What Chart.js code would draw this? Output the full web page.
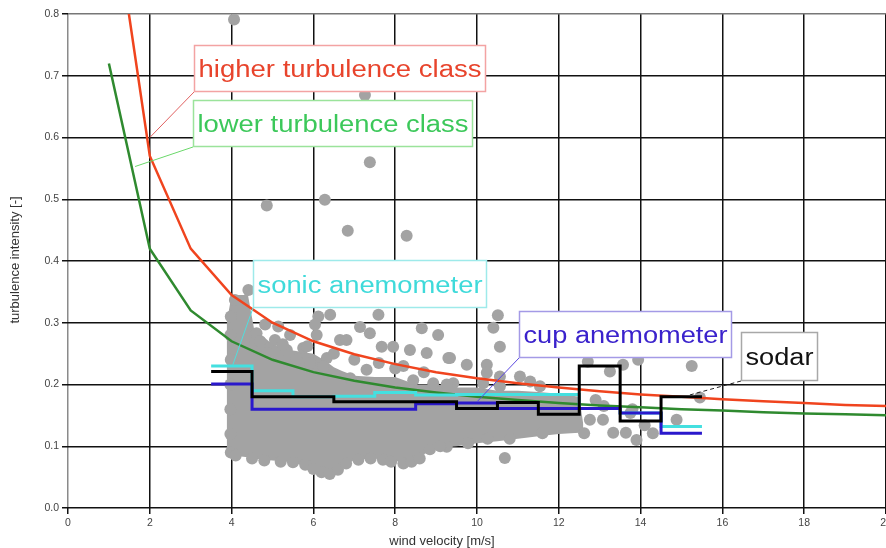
<!DOCTYPE html>
<html>
<head>
<meta charset="utf-8">
<script src="https://cdn.jsdelivr.net/npm/chart.js@4.4.1/dist/chart.umd.min.js"></script>
<style>
html,body{margin:0;padding:0;background:#fff;overflow:hidden}
#wrap{width:886px;height:548px;overflow:hidden}
</style>
</head>
<body>
<div id="wrap"><canvas id="c" width="892" height="548"></canvas></div>
<script>
'use strict';

// turbulence classes, read at integer wind speeds
const classX=[1,2,3,4,5,6,7,8,9,10,11,12,13,14,15,16,17,18,19,20];
const higherClass=[1.02,0.57,0.42,0.345,0.30,0.27,0.249,0.233,0.22,0.21,0.202,0.195,0.189,0.184,0.18,0.176,0.173,0.17,0.167,0.165];
const lowerClass=[0.72,0.42,0.32,0.27,0.24,0.22,0.206,0.195,0.187,0.18,0.175,0.17,0.166,0.163,0.16,0.158,0.155,0.153,0.152,0.15];

// 1 m/s bins (edges), one mean value per bin
const binEdges=[3.5,4.5,5.5,6.5,7.5,8.5,9.5,10.5,11.5,12.5,13.5,14.5,15.5];
const sonic=[0.230,0.190,0.180,0.181,0.187,0.183,0.184,0.184,0.184,0.161,0.154,0.132];
const cup=[0.201,0.160,0.160,0.160,0.160,0.169,0.170,0.161,0.161,0.161,0.154,0.121];
const sodar=[0.221,0.180,0.180,0.172,0.172,0.172,0.161,0.171,0.152,0.230,0.141,0.180];

// dense core of the 10-min samples (upper / lower edge)
const cloudX=[3.88,4.0,4.4,4.55,5.0,5.5,6.0,6.3,6.5,6.7,7.0,7.5,8.0,8.5,9.0,9.5,10.0,10.5,11.0,11.5,12.0,12.5,12.6];
const cloudTop=[0.30,0.345,0.345,0.29,0.265,0.255,0.25,0.238,0.228,0.222,0.214,0.212,0.212,0.20,0.20,0.195,0.195,0.19,0.19,0.188,0.185,0.18,0.135];
const cloudBottom=[0.085,0.085,0.082,0.08,0.077,0.074,0.063,0.056,0.056,0.065,0.078,0.08,0.075,0.08,0.097,0.1,0.105,0.108,0.112,0.116,0.12,0.122,0.128];

// single samples outside / on the edge of the core
const samples=[
  [4.06,0.791],[4.86,0.490],[6.28,0.499],[6.84,0.449],[7.38,0.560],[8.28,0.441],[7.26,0.669],
  [4.41,0.353],[4.08,0.337],[6.12,0.310],[6.41,0.313],[7.59,0.313],[7.14,0.293],[7.38,0.283],
  [7.67,0.261],[8.65,0.291],[9.05,0.280],[8.36,0.256],[8.77,0.251],[9.30,0.243],[9.75,0.232],
  [10.24,0.232],[10.40,0.292],[10.51,0.312],[6.65,0.272],[6.81,0.272],[6.08,0.280],[6.04,0.297],
  [5.75,0.259],[6.33,0.243],[6.24,0.229],[7.30,0.224],[8.00,0.226],[7.95,0.261],[5.43,0.280],
  [5.14,0.294],[4.82,0.297],[5.06,0.272],[4.61,0.283],[4.53,0.261],[4.86,0.251],[5.35,0.256],
  [5.59,0.240],[5.92,0.235],[6.90,0.210],[8.44,0.207],[8.93,0.202],[9.42,0.202],[10.15,0.202],
  [10.56,0.261],[9.34,0.243],[10.24,0.219],[10.56,0.213],[11.05,0.213],[11.30,0.205],[12.71,0.237],
  [13.25,0.221],[13.94,0.240],[15.25,0.230],[14.88,0.143],[13.57,0.232],[11.54,0.197],[10.56,0.197],
  [9.26,0.200],[15.45,0.179],[10.68,0.081],[13.90,0.110],[13.33,0.122],[13.64,0.122],[14.30,0.121],
  [12.62,0.121],[10.80,0.112],[10.26,0.112],[12.76,0.143],[13.08,0.143],[14.10,0.134],[13.75,0.154],
  [11.60,0.121],[9.78,0.105],[9.26,0.099],[13.80,0.160],[13.10,0.165],[12.90,0.175],
  [3.98,0.31],[3.97,0.28],[3.98,0.24],[3.97,0.20],[3.97,0.16],[3.97,0.12],[3.98,0.09],
  [4.1,0.085],[4.5,0.08],[4.8,0.077],[5.2,0.075],[5.5,0.074],[5.8,0.07],[6.0,0.063],[6.2,0.058],
  [6.4,0.055],[6.6,0.062],[6.8,0.072],[7.1,0.078],[7.4,0.08],[7.7,0.078],[7.9,0.075],[8.2,0.072],
  [8.4,0.075],[8.6,0.08],[8.85,0.095],[9.1,0.1],
  [4.7,0.27],[5.25,0.265],[5.85,0.262],[6.5,0.25],[7.0,0.24],[7.6,0.235],[8.2,0.23],[8.7,0.22]
];

const GREY='#a3a3a3';
const pts=(xs,ys)=>xs.map((x,i)=>({x,y:ys[i]}));
const steps=vals=>binEdges.map((x,i)=>({x,y:vals[Math.min(i,vals.length-1)]}));

// text boxes: box corners and the point the leader line goes to (data units)
const notes=[
  {text:'higher turbulence class',color:'#e8442c',border:'#f3a3a3',line:'#e06060',x0:3.08,y0:0.749,x1:10.22,y1:0.673,ax:2.0,ay:0.60},
  {text:'lower turbulence class',color:'#3cc85a',border:'#9be39b',line:'#6ad86a',x0:3.06,y0:0.661,x1:9.90,y1:0.585,ax:1.64,ay:0.553},
  {text:'sonic anemometer',color:'#3fdada',border:'#9eeaea',line:'#50dede',x0:4.52,y0:0.402,x1:10.24,y1:0.324,ax:4.03,ay:0.232},
  {text:'cup anemometer',color:'#3a22cc',border:'#a49ae6',line:'#5a48e0',x0:11.03,y0:0.319,x1:16.23,y1:0.243,ax:10.0,ay:0.172},
  {text:'sodar',color:'#111',border:'#a8a8a8',line:'#222',dash:[4,3],x0:16.45,y0:0.285,x1:18.34,y1:0.206,ax:15.2,ay:0.183}
];

const notePlugin={
  id:'notes',
  afterDatasetsDraw(ch){
    const {ctx,scales:{x,y}}=ch;
    notes.forEach(n=>{
      const L=Math.round(x.getPixelForValue(n.x0)),T=Math.round(y.getPixelForValue(n.y0));
      const R=Math.round(x.getPixelForValue(n.x1)),B=Math.round(y.getPixelForValue(n.y1));
      ctx.save();
      ctx.strokeStyle=n.line;ctx.lineWidth=1;ctx.setLineDash(n.dash||[]);
      ctx.beginPath();ctx.moveTo(L,B);ctx.lineTo(x.getPixelForValue(n.ax),y.getPixelForValue(n.ay));ctx.stroke();
      ctx.setLineDash([]);
      ctx.fillStyle='#fff';ctx.fillRect(L,T,R-L,B-T);
      ctx.strokeStyle=n.border;ctx.lineWidth=1.5;ctx.strokeRect(L+.5,T+.5,R-L-1,B-T-1);
      ctx.font='23px "Liberation Sans", Arial, sans-serif';
      const w=ctx.measureText(n.text).width,sx=(R-L-9)/w;
      ctx.translate(L+4.5,T+(B-T)*0.68);ctx.scale(sx,1);
      ctx.fillStyle=n.color;ctx.textBaseline='alphabetic';
      ctx.fillText(n.text,0,0);
      ctx.restore();
    });
    // axis titles
    ctx.save();
    ctx.fillStyle='#333';ctx.font='13px "Liberation Sans", Arial, sans-serif';
    ctx.textAlign='center';ctx.textBaseline='alphabetic';
    ctx.fillText('wind velocity [m/s]',442,545);
    ctx.translate(19,260);ctx.rotate(-Math.PI/2);
    ctx.fillText('turbulence intensity [-]',0,0);
    ctx.restore();
  }
};

const lineDs=(label,data,color,w,order,extra)=>Object.assign({label,data,borderColor:color,borderWidth:w,pointRadius:0,fill:false,tension:0,order},extra||{});

new Chart(document.getElementById('c'),{
  type:'line',
  data:{datasets:[
    lineDs('sodar',steps(sodar),'#000',3,1,{stepped:'before'}),
    lineDs('cup anemometer',steps(cup),'#2a18cc',3,2,{stepped:'before'}),
    lineDs('sonic anemometer',steps(sonic),'#44e0e0',3,3,{stepped:'before'}),
    lineDs('lower turbulence class',pts(classX,lowerClass),'#2f8a2f',2.5,4),
    lineDs('higher turbulence class',pts(classX,higherClass),'#f0441e',2.5,5),
    {label:'samples',data:samples.map(([x,y])=>({x,y})),showLine:false,pointRadius:6,pointBorderWidth:0,pointBackgroundColor:GREY,order:6},
    lineDs('core',pts(cloudX,cloudTop),GREY,0,7,{fill:'+1',backgroundColor:GREY}),
    lineDs('core bottom',pts(cloudX,cloudBottom),GREY,0,8)
  ]},
  options:{
    responsive:false,animation:false,
    layout:{padding:{top:14,left:0,right:0,bottom:0}},
    plugins:{legend:{display:false},tooltip:{enabled:false}},
    events:[],
    scales:{
      x:{type:'linear',min:0,max:20,
        border:{display:false},
        ticks:{stepSize:2,color:'#444',padding:3,maxRotation:0,font:{family:'"Liberation Sans", Arial',size:10.5}},
        grid:{color:c=>c.tick&&c.tick.value===0?'#8a8a8a':'#111',lineWidth:1.5,tickLength:6,tickColor:'#111'},
        afterFit(s){s.height=40;s.paddingLeft=0;s.paddingRight=0;}
      },
      y:{type:'linear',min:0,max:0.8,
        border:{display:false},
        ticks:{stepSize:0.1,color:'#444',padding:3,callback:v=>Number(v).toFixed(1),font:{family:'"Liberation Sans", Arial',size:10.5}},
        grid:{color:c=>c.tick&&Math.abs(c.tick.value-0.8)<1e-6?'#777':'#111',lineWidth:1.5,tickLength:6,tickColor:'#111'},
        afterFit(s){s.width=68;s.paddingTop=0;s.paddingBottom=0;}
      }
    }
  },
  plugins:[notePlugin]
});
</script>
</body>
</html>
